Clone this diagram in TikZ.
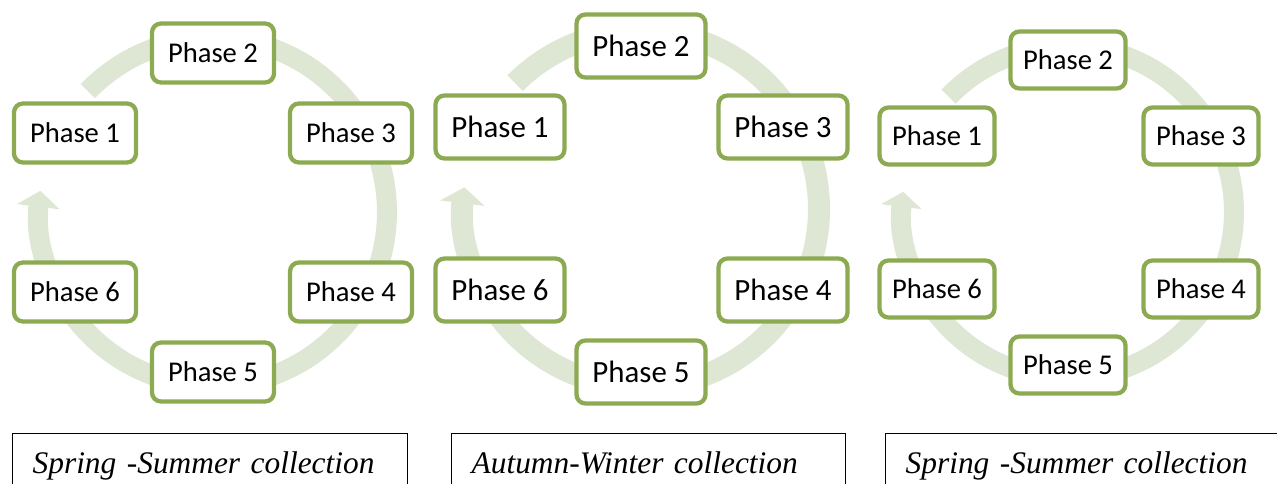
\documentclass[tikz,border=0pt]{standalone}
\usepackage{fontspec}
\setmainfont{Liberation Serif}
\newfontfamily\phasefont{Carlito}
\usetikzlibrary{arrows.meta}
\definecolor{phasegreen}{RGB}{140,170,82}
\definecolor{ringgreen}{RGB}{222,231,211}

\begin{document}
\begin{tikzpicture}[x=1pt,y=1pt,
  phase/.style={draw=phasegreen, line width=4.3pt, rounded corners=9pt, fill=white, inner sep=0pt,
    minimum width=122pt, minimum height=59pt, font=\phasefont\fontsize{28.6}{34}\selectfont},
  phasebig/.style={phase, minimum width=129pt, minimum height=63pt, font=\phasefont\fontsize{30.9}{37}\selectfont},
  phasesmall/.style={phase, minimum width=115pt, minimum height=57pt},
  ring/.style={ringgreen, line width=20pt},
  season/.style={draw=black, line width=1.3pt, anchor=north west, inner xsep=20pt, inner ysep=18pt,
    text width=355pt, text height=22pt, text depth=7pt, align=left, font=\itshape\fontsize{31.4}{38}\selectfont}]
  \useasboundingbox (0,0) rectangle (1277,483);
  \clip (0,0) rectangle (1277,483);
  \coordinate (ca) at (213,271);
  \coordinate (cb) at (641,274);
  \coordinate (cc) at (1068,271);
  % rings behind the phases
  \draw [ring, -{Triangle[width=42pt,length=16pt]}] ([shift={(136:174)}]ca) arc [start angle=136, end angle=-187, radius=174];
  \draw [ring, line width=22pt, -{Triangle[width=44pt,length=16pt]}] ([shift={(135:178)}]cb) arc [start angle=135, end angle=-187, radius=178];
  \draw [ring, -{Triangle[width=40pt,length=15pt]}] ([shift={(136:166)}]cc) arc [start angle=136, end angle=-187, radius=166];
  % spring-summer
  \node [phase] at (75,350) (a1) {Phase 1};
  \node [phase] at (213,430) (a2) {Phase 2};
  \node [phase] at (351,350) (a3) {Phase 3};
  \node [phase] at (351,191) (a4) {Phase 4};
  \node [phase] at (213,111) (a5) {Phase 5};
  \node [phase] at (75,191) (a6) {Phase 6};
  % autumn-winter
  \node [phasebig] at (500,356) (b1) {Phase 1};
  \node [phasebig] at (641,437) (b2) {Phase 2};
  \node [phasebig] at (783,356) (b3) {Phase 3};
  \node [phasebig] at (783,193) (b4) {Phase 4};
  \node [phasebig] at (641,111) (b5) {Phase 5};
  \node [phasebig] at (500,193) (b6) {Phase 6};
  % spring-summer again
  \node [phasesmall] at (937,347) (c1) {Phase 1};
  \node [phasesmall] at (1068,423) (c2) {Phase 2};
  \node [phasesmall] at (1201,347) (c3) {Phase 3};
  \node [phasesmall] at (1201,194) (c4) {Phase 4};
  \node [phasesmall] at (1068,118) (c5) {Phase 5};
  \node [phasesmall] at (937,194) (c6) {Phase 6};
  % collection labels
  \node [season] at (12,50) (la) {Spring -Summer collection};
  \node [season, text width=354pt] at (451,50) (lb) {Autumn-Winter collection};
  \node [season] at (885,50) (lc) {Spring -Summer collection};
\end{tikzpicture}
\end{document}
